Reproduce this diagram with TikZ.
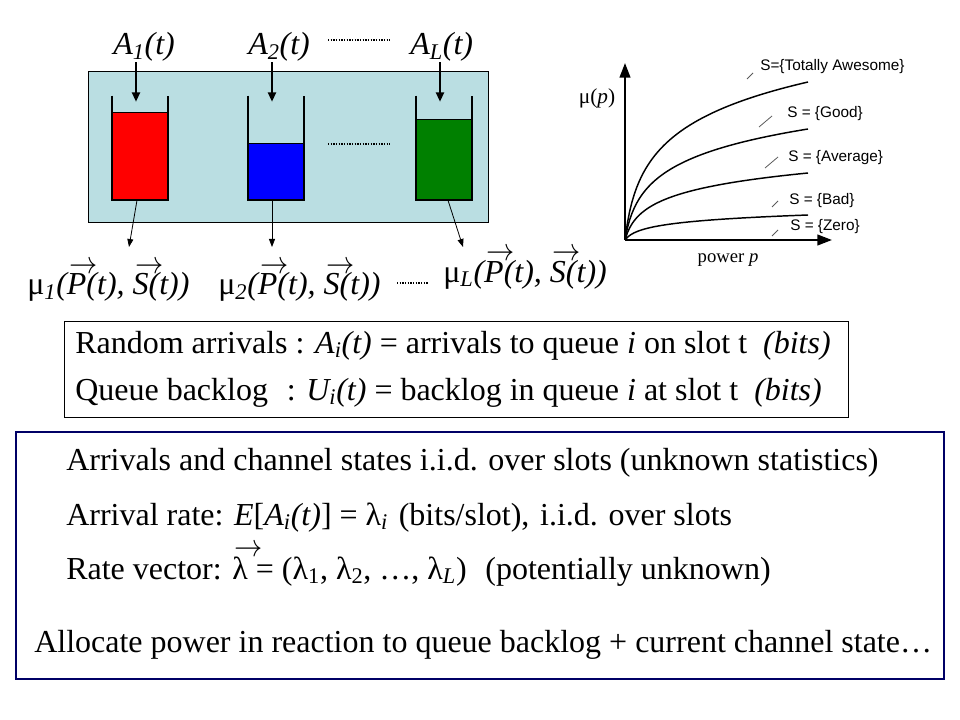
\documentclass[tikz,border=0pt]{standalone}
\usepackage{fontspec}
\setmainfont{Liberation Serif}
\newfontfamily\arialfont{Liberation Sans}
\usetikzlibrary{arrows.meta}

\definecolor{panelblue}{RGB}{186,222,226}
\definecolor{queuegreen}{RGB}{0,128,0}
\definecolor{boxnavy}{RGB}{0,0,102}
\definecolor{tickgray}{RGB}{90,90,90}

\newsavebox\vecletter
\newcommand{\vecarr}[1]{\leavevmode\sbox\vecletter{#1}%
  \rlap{\kern0.08em\raisebox{1.02\ht\vecletter}{\scalebox{0.85}[0.95]{$\rightarrow$}}}%
  \usebox\vecletter}

\begin{document}
\begin{tikzpicture}[x=0.75pt, y=-0.75pt,
    queue/.style={minimum width=42pt, minimum height=78pt, inner sep=0pt},
    fillbox/.style={draw, line width=0.75pt, minimum width=42pt, inner sep=0pt, anchor=south},
    inarrow/.style={-{Triangle[length=7pt, width=6pt]}, line width=1.5pt},
    outarrow/.style={-{Triangle[length=6pt, width=4.5pt]}, line width=0.6pt},
    axis/.style={-{Triangle[length=11pt, width=8pt]}, line width=1.6pt},
    biglabel/.style={font=\fontsize{24}{28}\selectfont\itshape, inner sep=0pt, anchor=base west},
    textline/.style={font=\fontsize{24}{28}\selectfont, inner sep=0pt, anchor=base west},
    curvelabel/.style={font=\arialfont\fontsize{11.5}{13}\selectfont, inner sep=0pt, anchor=west},
    dotline/.style={line width=0.9pt, dash pattern=on 0.9pt off 1.1pt},
    ratecurve/.style={line width=1.1pt},
]
\useasboundingbox (0,0) rectangle (960,720);

\fill[panelblue, draw=black, line width=0.75pt] (88,72) rectangle (488,223);

\node[queue] (q1) at (140,148) {};
\node[queue] (q2) at (276,148) {};
\node[queue] (qL) at (444,148) {};
\node[fillbox, fill=red, minimum height=65.25pt] (f1) at (q1.south) {};
\node[fillbox, fill=blue, minimum height=42pt] (f2) at (q2.south) {};
\node[fillbox, fill=queuegreen, minimum height=60pt] (fL) at (qL.south) {};
\foreach \q in {q1,q2,qL}
    \draw[line width=1.5pt] (\q.north west) -- (\q.south west) -- (\q.south east) -- (\q.north east);

\node[biglabel] (a1) at (113,55) {A\textsubscript{1}(t)};
\node[biglabel] (a2) at (248,55) {A\textsubscript{2}(t)};
\node[biglabel] (aL) at (410,55) {A\textsubscript{L}(t)};
\draw[dotline] (328,40) -- (390,40);
\coordinate (in1) at ([xshift=-3pt, yshift=-4.5pt]q1.north);
\coordinate (in2) at ([xshift=-3pt, yshift=-4.5pt]q2.north);
\coordinate (inL) at ([xshift=-3pt, yshift=-4.5pt]qL.north);
\draw[inarrow] (a1.south -| in1) -- (in1);
\draw[inarrow] (a2.south -| in2) -- (in2);
\draw[inarrow] (aL.south -| inL) -- (inL);
\draw[dotline] (328,144) -- (390,144);

\node[biglabel] (m1) at (27,295) {{\upshape μ}\textsubscript{1}(\vecarr{P}(t), \vecarr{S}(t))};
\node[biglabel] (m2) at (218,295) {{\upshape μ}\textsubscript{2}(\vecarr{P}(t), \vecarr{S}(t))};
\node[biglabel] (mL) at (443,282) {{\upshape μ}\textsubscript{L}(\vecarr{P}(t), \vecarr{S}(t))};
\draw[dotline] (397,283) -- (428,283);
\coordinate (out1) at (129,247);
\coordinate (out2) at (272,247);
\coordinate (outL) at (463,247);
\draw[outarrow] ([xshift=-2.25pt]f1.south) -- (out1);
\draw[outarrow] ([xshift=-3pt]f2.south) -- (out2);
\draw[outarrow] ([xshift=3pt]fL.south) -- (outL);

\coordinate (origin) at (625,240);
\coordinate (ytop) at (625,63);
\coordinate (xend) at (832,240);
\foreach \rise in {158,111,67,25}
    \draw[ratecurve] plot[domain=0:183, samples=80] ({625+\x},{240-\rise*ln(1+\x/5)/ln(1+183/5)});
\draw[axis] (origin) -- (ytop);
\draw[axis] (origin) -- (xend);
\node[font=\fontsize{16}{18}\selectfont, inner sep=0pt] (mup) at (597,98) {μ(\textit{p})};
\node[font=\fontsize{14}{16}\selectfont, inner sep=0pt] (powp) at (728,260) {power \textit{p}};

\node[curvelabel] (sawe) at (760,67) {S=\{Totally Awesome\}};
\node[curvelabel] (sgood) at (787,114) {S = \{Good\}};
\node[curvelabel] (savg) at (788,158) {S = \{Average\}};
\node[curvelabel] (sbad) at (789,201) {S = \{Bad\}};
\node[curvelabel] (szero) at (790,227) {S = \{Zero\}};
\draw[tickgray, line width=0.6pt] (747,79) -- (753,73);
\draw[tickgray, line width=0.6pt] (759,127) -- (772,116);
\draw[tickgray, line width=0.6pt] (765,168) -- (778,157);
\draw[tickgray, line width=0.6pt] (772,207) -- (778,201);
\draw[tickgray, line width=0.6pt] (772,236) -- (778,230);

\draw[line width=0.75pt] (64,321) rectangle (848,417);
\node[textline] (arr) at (75,353) {Random arrivals : \textit{A\textsubscript{i}(t)} = arrivals to queue \textit{i} on slot t\hspace{12pt}\textit{(bits)}};
\node[textline] (back) at (75,400) {Queue backlog\hspace{14pt}: \textit{U\textsubscript{i}(t)} = backlog in queue \textit{i} at slot t\hspace{12pt}\textit{(bits)}};

\draw[boxnavy, line width=1.5pt] (16,432) rectangle (944,679);
\node[textline] (iid) at (66,470) {Arrivals and channel states i.i.d. over slots (unknown statistics)};
\node[textline] (rate) at (66,525) {Arrival rate: \textit{E}[\textit{A\textsubscript{i}(t)}] = λ\textsubscript{\textit{i}}\hspace{8pt}(bits/slot),\hspace{8pt}i.i.d. over slots};
\node[textline] (vec) at (66,579) {Rate vector: \vecarr{λ} = (λ\textsubscript{1}, λ\textsubscript{2}, …, λ\textsubscript{\textit{L}})\hspace{14pt}(potentially unknown)};
\node[textline] (alloc) at (34,652) {Allocate power in reaction to queue backlog + current channel state…};

\end{tikzpicture}
\end{document}
